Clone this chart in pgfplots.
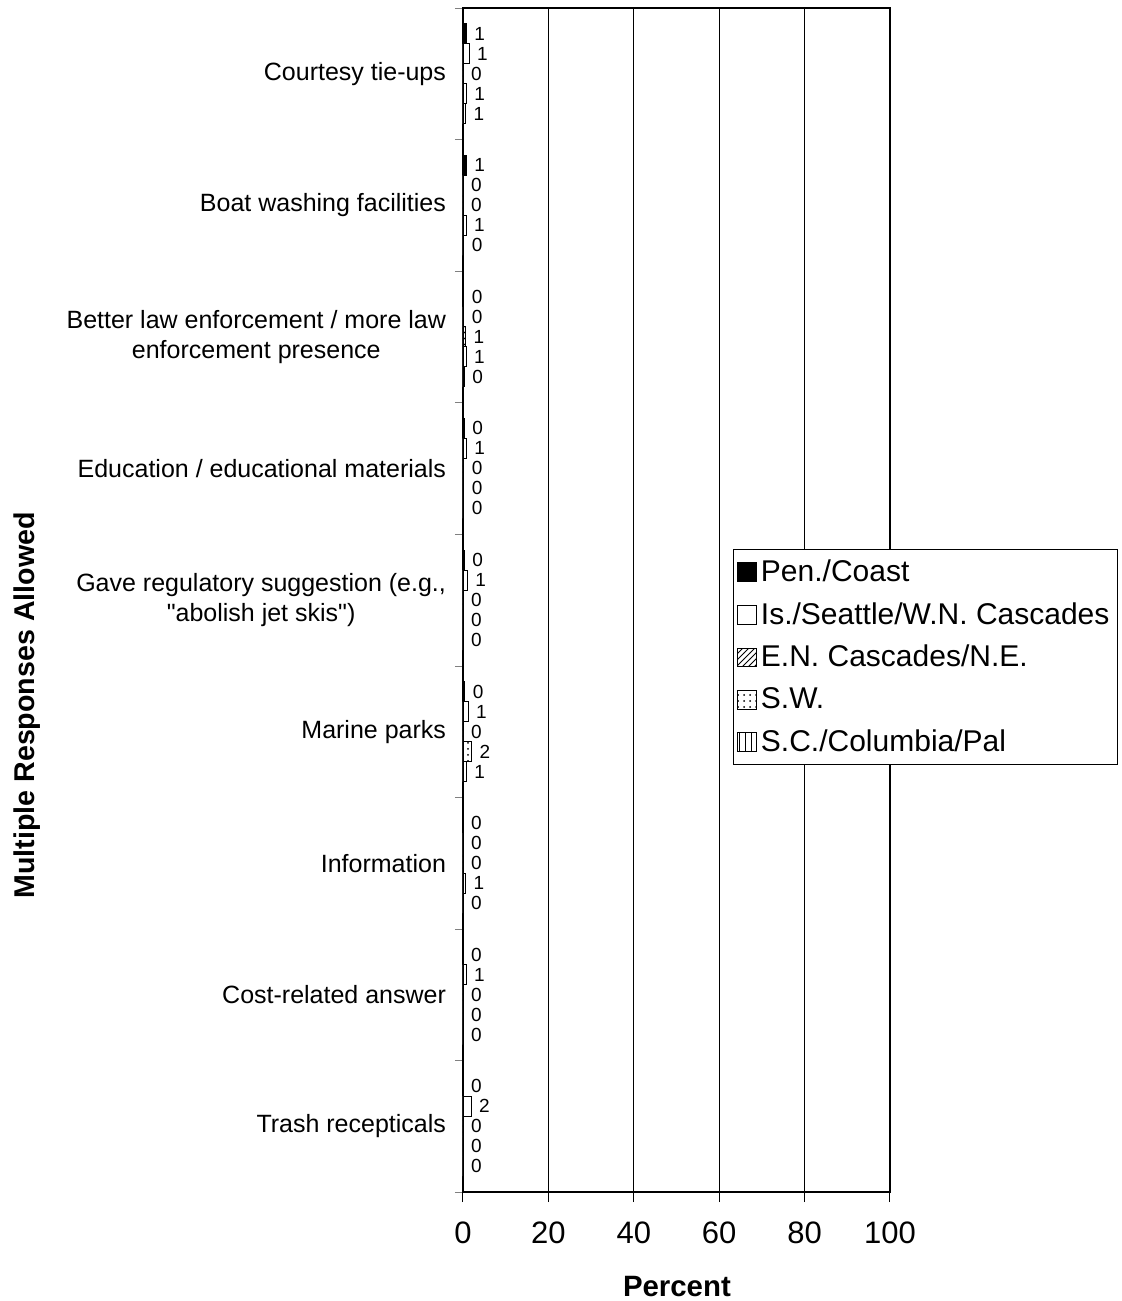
\documentclass[border=0pt]{standalone}
\usepackage{fontspec}
\setmainfont{Liberation Sans}[Ligatures=TeXOff]
\usepackage{pgfplots}
\pgfplotsset{compat=1.18}
\usetikzlibrary{patterns}

\pgfplotsset{
  s1/.style={fill=black, draw=black, line width=0.4pt},
  s2/.style={fill=white, draw=black, line width=0.4pt},
  s3/.style={fill=white, draw=black, line width=0.4pt, postaction={pattern=north east lines}},
  s4/.style={fill=white, draw=black, line width=0.4pt, postaction={pattern=dots}},
  s5/.style={fill=white, draw=black, line width=0.4pt, postaction={pattern=vertical lines}},
}

\begin{document}
\begin{tikzpicture}
\begin{axis}[
    name=ax,
    scale only axis,
    width=213.5pt, height=592pt,
    xbar, bar width=10pt,
    xmin=0, xmax=100,
    ymin=-0.5, ymax=8.5,
    y dir=reverse,
    xtick={0,20,40,60,80,100},
    ytick={0,1,2,3,4,5,6,7,8},
    yticklabels={
      Courtesy tie-ups,
      Boat washing facilities,
      {Better law enforcement / more law\\enforcement presence},
      Education / educational materials,
      {Gave regulatory suggestion (e.g.,\\"abolish jet skis")},
      Marine parks,
      Information,
      Cost-related answer,
      Trash recepticals},
    minor ytick={-0.5,0.5,1.5,2.5,3.5,4.5,5.5,6.5,7.5,8.5},
    major tick length=0pt,
    minor tick length=4pt,
    xtick style={draw=black, line width=0.5pt},
    x tick label style={font=\fontsize{15.5}{18}\selectfont, yshift=-11.5pt},
    extra x ticks={0,20,40,60,80,100},
    extra x tick labels={},
    extra x tick style={major tick length=5pt, tick align=outside, grid=none},
    tick align=outside,
    ytick pos=left, xtick pos=bottom,
    y tick label style={font=\fontsize{12.5}{15}\selectfont, align=center, xshift=-5pt},
    /pgf/number format/assume math mode=true,
    xmajorgrids, major grid style={black, line width=0.5pt},
    axis line style={black, line width=1pt},
    xlabel={\textbf{Percent}},
    ylabel={\textbf{Multiple Responses Allowed}},
    xlabel style={font=\fontsize{14.7}{17}\selectfont, inner sep=0pt, at={(axis description cs:0.501,-0.08)}, anchor=center},
    ylabel style={font=\fontsize{14.3}{17}\selectfont, inner sep=0pt, at={(axis description cs:-1.021,0.411)}, anchor=center, rotate=0},
    nodes near coords,
    nodes near coords style={font=\fontsize{9.5}{10}\selectfont, anchor=west, xshift=0.5pt,
      /pgf/number format/.cd, fixed, precision=0},
    legend style={at={(0.632,0.543)}, anchor=north west, draw=black, line width=0.5pt,
      font=\fontsize{15}{17.5}\selectfont, row sep=5pt, inner xsep=2pt, inner ysep=3pt,
      cells={anchor=west}},
    legend image code/.code={\draw[#1] (0pt,-4.7pt) rectangle (9.4pt,4.7pt);},
]
\addplot[s1, bar shift=20pt] coordinates {(0.8,0) (0.8,1) (0.2,2) (0.3,3) (0.3,4) (0.4,5) (0,6) (0,7) (0,8)};
\addplot[s2, bar shift=10pt] coordinates {(1.4,0) (0,1) (0.2,2) (0.8,3) (1.0,4) (1.2,5) (0,6) (0.7,7) (1.9,8)};
\addplot[s3, bar shift=0pt] coordinates {(0,0) (0,1) (0.6,2) (0.2,3) (0,4) (0,5) (0,6) (0,7) (0,8)};
\addplot[s4, bar shift=-10pt] coordinates {(0.8,0) (0.7,1) (0.7,2) (0.2,3) (0,4) (2.0,5) (0.6,6) (0,7) (0,8)};
\addplot[s5, bar shift=-20pt] coordinates {(0.6,0) (0.2,1) (0.3,2) (0.2,3) (0,4) (0.8,5) (0,6) (0,7) (0,8)};
\legend{Pen./Coast, Is./Seattle/W.N. Cascades, E.N. Cascades/N.E., S.W., S.C./Columbia/Pal}
\end{axis}
\path ([shift={(-231.5pt,-54.5pt)}]ax.south west) rectangle ([shift={(116pt,4pt)}]ax.north east);
\end{tikzpicture}
\end{document}
